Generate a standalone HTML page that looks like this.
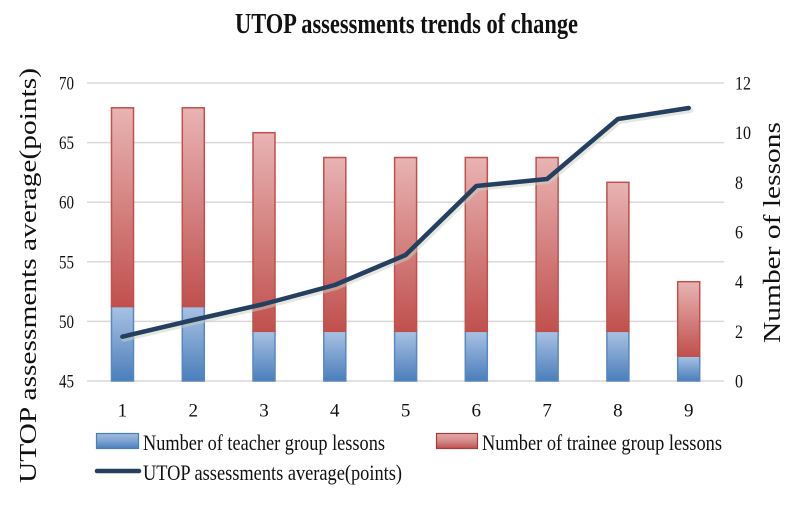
<!DOCTYPE html>
<html>
<head>
<meta charset="utf-8">
<style>
html,body{margin:0;padding:0;background:#fff;}
svg{display:block;}
text{font-family:"Liberation Serif","Times New Roman",serif;fill:#111;}
</style>
</head>
<body>
<svg width="794" height="511" viewBox="0 0 794 511" xmlns="http://www.w3.org/2000/svg">
<defs>
<linearGradient id="red" x1="0" y1="0" x2="0" y2="1">
<stop offset="0" stop-color="#e8b4b3"/>
<stop offset="1" stop-color="#c0504d"/>
</linearGradient>
<linearGradient id="blue" x1="0" y1="0" x2="0" y2="1">
<stop offset="0" stop-color="#a9c2e3"/>
<stop offset="1" stop-color="#4a7ebb"/>
</linearGradient>
<linearGradient id="redL" x1="0" y1="0" x2="0" y2="1">
<stop offset="0" stop-color="#e6aaaa"/>
<stop offset="0.5" stop-color="#d48a8a"/>
<stop offset="1" stop-color="#c0504d"/>
</linearGradient>
<linearGradient id="blueL" x1="0" y1="0" x2="0" y2="1">
<stop offset="0" stop-color="#9fbbe0"/>
<stop offset="0.5" stop-color="#7ea3d3"/>
<stop offset="1" stop-color="#4a7ebb"/>
</linearGradient>
</defs>

<!-- title -->
<text x="235" y="33" font-size="28" font-weight="bold" textLength="343" lengthAdjust="spacingAndGlyphs">UTOP assessments trends of change</text>

<!-- gridlines -->
<g stroke="#d9d9d9" stroke-width="1.5">
<line x1="87" y1="83" x2="724" y2="83"/>
<line x1="87" y1="142.6" x2="724" y2="142.6"/>
<line x1="87" y1="202.2" x2="724" y2="202.2"/>
<line x1="87" y1="261.8" x2="724" y2="261.8"/>
<line x1="87" y1="321.4" x2="724" y2="321.4"/>
<line x1="87" y1="381" x2="724" y2="381"/>
</g>

<!-- left ticks -->
<g font-size="19" text-anchor="end">
<text x="74" y="89.5" textLength="15" lengthAdjust="spacingAndGlyphs">70</text>
<text x="74" y="149.1" textLength="15" lengthAdjust="spacingAndGlyphs">65</text>
<text x="74" y="208.7" textLength="15" lengthAdjust="spacingAndGlyphs">60</text>
<text x="74" y="268.3" textLength="15" lengthAdjust="spacingAndGlyphs">55</text>
<text x="74" y="327.9" textLength="15" lengthAdjust="spacingAndGlyphs">50</text>
<text x="74" y="387.5" textLength="15" lengthAdjust="spacingAndGlyphs">45</text>
</g>

<!-- right ticks -->
<g font-size="19">
<text x="735" y="89.5" textLength="16" lengthAdjust="spacingAndGlyphs">12</text>
<text x="735" y="139.2" textLength="16" lengthAdjust="spacingAndGlyphs">10</text>
<text x="735" y="188.8" textLength="8" lengthAdjust="spacingAndGlyphs">8</text>
<text x="735" y="238.5" textLength="8" lengthAdjust="spacingAndGlyphs">6</text>
<text x="735" y="288.2" textLength="8" lengthAdjust="spacingAndGlyphs">4</text>
<text x="735" y="337.8" textLength="8" lengthAdjust="spacingAndGlyphs">2</text>
<text x="735" y="387.5" textLength="8" lengthAdjust="spacingAndGlyphs">0</text>
</g>

<!-- axis titles -->
<text transform="translate(36,483) rotate(-90)" font-size="24" textLength="415" lengthAdjust="spacingAndGlyphs">UTOP assessments average(points)</text>
<text transform="translate(780,343) rotate(-90)" font-size="24" textLength="221" lengthAdjust="spacingAndGlyphs">Number of lessons</text>

<!-- bars -->
<g stroke-width="1.5">
<rect x="111.5" y="306.5" width="22" height="74.5" fill="url(#blue)" stroke="#5b87c0"/>
<rect x="111.5" y="107.8" width="22" height="198.7" fill="url(#red)" stroke="#c0504d"/>
<rect x="182.3" y="306.5" width="22" height="74.5" fill="url(#blue)" stroke="#5b87c0"/>
<rect x="182.3" y="107.8" width="22" height="198.7" fill="url(#red)" stroke="#c0504d"/>
<rect x="253" y="331.3" width="22" height="49.7" fill="url(#blue)" stroke="#5b87c0"/>
<rect x="253" y="132.7" width="22" height="198.6" fill="url(#red)" stroke="#c0504d"/>
<rect x="323.8" y="331.3" width="22" height="49.7" fill="url(#blue)" stroke="#5b87c0"/>
<rect x="323.8" y="157.5" width="22" height="173.8" fill="url(#red)" stroke="#c0504d"/>
<rect x="394.6" y="331.3" width="22" height="49.7" fill="url(#blue)" stroke="#5b87c0"/>
<rect x="394.6" y="157.5" width="22" height="173.8" fill="url(#red)" stroke="#c0504d"/>
<rect x="465.3" y="331.3" width="22" height="49.7" fill="url(#blue)" stroke="#5b87c0"/>
<rect x="465.3" y="157.5" width="22" height="173.8" fill="url(#red)" stroke="#c0504d"/>
<rect x="536.1" y="331.3" width="22" height="49.7" fill="url(#blue)" stroke="#5b87c0"/>
<rect x="536.1" y="157.5" width="22" height="173.8" fill="url(#red)" stroke="#c0504d"/>
<rect x="606.9" y="331.3" width="22" height="49.7" fill="url(#blue)" stroke="#5b87c0"/>
<rect x="606.9" y="182.3" width="22" height="149" fill="url(#red)" stroke="#c0504d"/>
<rect x="677.7" y="356.2" width="22" height="24.8" fill="url(#blue)" stroke="#5b87c0"/>
<rect x="677.7" y="281.7" width="22" height="74.5" fill="url(#red)" stroke="#c0504d"/>
</g>

<!-- line -->
<polyline points="122.4,336.7 193.2,320 264,304 334.8,285 405.6,255 476.3,186 547.1,179 617.9,119 688.7,108" fill="none" stroke="#c9d2c0" stroke-width="6" stroke-linejoin="round" stroke-linecap="round" transform="translate(1.5,2)" opacity="0.5"/>
<polyline points="122.4,336.7 193.2,320 264,304 334.8,285 405.6,255 476.3,186 547.1,179 617.9,119 688.7,108" fill="none" stroke="#243f60" stroke-width="4.5" stroke-linejoin="round" stroke-linecap="round"/>

<!-- x labels -->
<g font-size="19" text-anchor="middle">
<text x="122.4" y="416.5">1</text>
<text x="193.2" y="416.5">2</text>
<text x="264" y="416.5">3</text>
<text x="334.8" y="416.5">4</text>
<text x="405.6" y="416.5">5</text>
<text x="476.3" y="416.5">6</text>
<text x="547.1" y="416.5">7</text>
<text x="617.9" y="416.5">8</text>
<text x="688.7" y="416.5">9</text>
</g>

<!-- legend -->
<rect x="96.5" y="433.5" width="42" height="15" fill="url(#blueL)" stroke="#4a7ebb" stroke-width="1.2"/>
<text x="143" y="450" font-size="22" textLength="242" lengthAdjust="spacingAndGlyphs">Number of teacher group lessons</text>
<rect x="436.5" y="433.5" width="41" height="15" fill="url(#redL)" stroke="#a0403d" stroke-width="1.2"/>
<text x="482" y="450" font-size="22" textLength="240" lengthAdjust="spacingAndGlyphs">Number of trainee group lessons</text>
<line x1="97" y1="471" x2="139" y2="471" stroke="#243f60" stroke-width="4.5" stroke-linecap="round"/>
<text x="143" y="480" font-size="22" textLength="259" lengthAdjust="spacingAndGlyphs">UTOP assessments average(points)</text>
</svg>
</body>
</html>
